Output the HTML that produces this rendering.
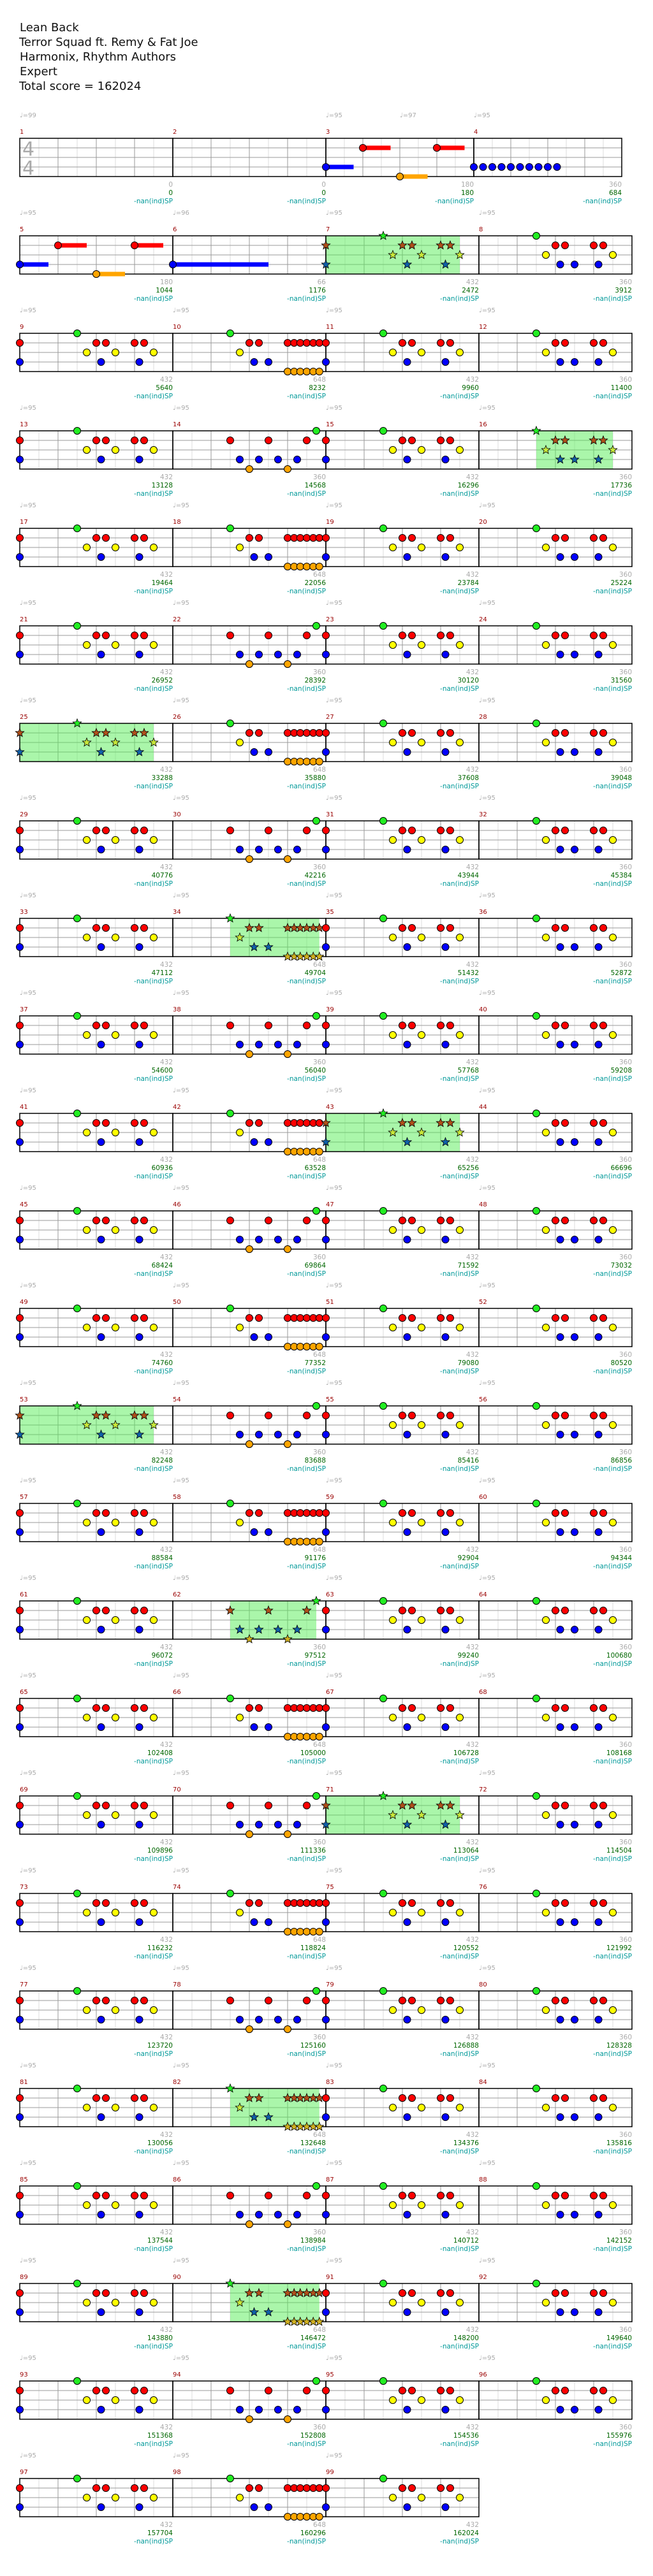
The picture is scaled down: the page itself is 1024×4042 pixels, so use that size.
<!DOCTYPE html>
<html><head><meta charset="utf-8">
<style>
html,body{margin:0;padding:0;background:#fff;}
svg{display:block;}
.t{font-family:"DejaVu Sans","Liberation Sans",sans-serif;}
</style></head>
<body>
<svg id="chart" width="1024" height="4042" viewBox="0 0 1024 4042" xmlns="http://www.w3.org/2000/svg">
<g class="t" font-size="18" fill="#111">
<text x="31" y="49">Lean Back</text>
<text x="30" y="72">Terror Squad ft. Remy &amp; Fat Joe</text>
<text x="31" y="95">Harmonix, Rhythm Authors</text>
<text x="31" y="118">Expert</text>
<text x="30" y="141">Total score = 162024</text>
</g>
<g font-family="DejaVu Sans, sans-serif" font-size="30" fill="#aaa">
<text x="35" y="244">4</text><text x="35" y="274">4</text>
</g>
<g id="rows"></g>
</svg>
<script>
// ---- data ----
const patA = [[0,1.5],[1,0],[1,2],[1,2.25],[1,3],[1,3.25],[2,1.75],[2,2.5],[2,3.5],[3,0],[3,2.125],[3,3.125]];
const patB = [[0,1.5],[1,2],[1,2.25],[1,3],[1,3.17],[1,3.33],[1,3.5],[1,3.67],[1,3.83],[2,1.75],[3,2.125],[3,2.5],[4,3],[4,3.17],[4,3.33],[4,3.5],[4,3.67],[4,3.83]];
const patC = [[0,1.5],[1,2],[1,2.25],[1,3],[1,3.25],[2,1.75],[2,3.5],[3,2.125],[3,2.5],[3,3.125]];
const patD = [[0,3.75],[1,1.5],[1,2.5],[1,3.5],[3,1.75],[3,2.25],[3,2.75],[3,3.25],[4,2],[4,3]];
const patIntro3 = [[3,0,0.75],[1,1,1.75],[4,2,2.75],[1,3,3.75]];
const patIntro4 = [[3,0],[3,0.25],[3,0.5],[3,0.75],[3,1],[3,1.25],[3,1.5],[3,1.75],[3,2],[3,2.25]];
const patIntro6 = [[3,0,2.5]];
const spMeasures = [7,16,25,34,43,53,62,71,82,90];
const measureNums = [];
for (let m=1;m<=99;m++) measureNums.push(m);
const measurePoints = [0,0,180,360,180,66,432,360];
const scores = [0,0,180,684,1044,1176,2472,3912,5640,8232,9960,11400,13128,14568,16296,17736,19464,22056,23784,25224,26952,28392,30120,31560,33288,35880,37608,39048,40776,42216,43944,45384,47112,49704,51432,52872,54600,56040,57768,59208,60936,63528,65256,66696,68424,69864,71592,73032,74760,77352,79080,80520,82248,83688,85416,86856,88584,91176,92904,94344,96072,97512,99240,100680,102408,105000,106728,108168,109896,111336,113064,114504,116232,118824,120552,121992,123720,125160,126888,128328,130056,132648,134376,135816,137544,138984,140712,142152,143880,146472,148200,149640,151368,152808,154536,155976,157704,160296,162024];
const tempos = {1:99,3:95,4:95,5:95,6:96,7:95,8:95};

const NS="http://www.w3.org/2000/svg";
const root=document.getElementById('rows');
const laneColors=['#22ee22','#ff0000','#ffff00','#0000ff','#ffa500'];
const starColors=['#22ee22','#b0501a','#c8e83a','#1060a8','#d0b020'];
const laneNames=['green','red','yellow','blue','orange'];
function mk(tag,attrs,parent){const e=document.createElementNS(NS,tag);for(const k in attrs)e.setAttribute(k,attrs[k]);(parent||root).appendChild(e);return e;}
function patternFor(m){
  if(m===3) return {notes:patIntro3,sus:true};
  if(m===4) return {notes:patIntro4};
  if(m===5) return {notes:patIntro3,sus:true};
  if(m===6) return {notes:patIntro6,sus:true};
  if(m<7) return {notes:[]};
  if(m%2===1) return {notes:patA,pts:432};
  if(m%4===0) return {notes:patC,pts:360};
  if(m%8===2) return {notes:patB,pts:648};
  return {notes:patD,pts:360};
}
function starPts(cx,cy,R,r){let p=[];for(let i=0;i<10;i++){const a=-Math.PI/2+i*Math.PI/5;const rr=i%2?r:R;p.push((cx+rr*Math.cos(a)).toFixed(1)+','+(cy+rr*Math.sin(a)).toFixed(1));}return p.join(' ');}

measureNums.forEach((m,i)=>{
  const row=Math.floor(i/4), col=i%4;
  const top=217+153*row, bot=top+60;
  let x, w;
  if(row===0){const xs=[31,271,511,743];const ws=[240,240,232,232];x=xs[col];w=ws[col];}
  else {x=31+240*col;w=240;}
  const bw=w/4;
  const g=mk('g',{});
  
  
  for(let k=1;k<8;k++){const lx=x+k*bw/2;mk('line',{x1:lx,y1:top,x2:lx,y2:bot,stroke:k%2?'#dddddd':'#999999','stroke-width':1},g);}
  for(let k=1;k<4;k++){mk('line',{x1:x,y1:top+15*k,x2:x+w,y2:top+15*k,stroke:'#999999','stroke-width':1},g);}
  const p=patternFor(m);
  const sp=spMeasures.includes(m);
  if(sp&&p.notes.length){
    let b0=Math.min(...p.notes.map(n=>n[1])), b1=Math.max(...p.notes.map(n=>n[1]));
    const r=mk('rect',{x:x+b0*bw,y:top,width:(b1-b0)*bw,height:60,fill:'#55ee55','fill-opacity':0.5},g);
    
    
  }
  mk('rect',{x:x,y:top,width:w,height:60,fill:'none',stroke:'#000','stroke-width':1.5},g);
  const mn=mk('text',{x:x,y:top-7,'font-size':10,fill:'#990000','font-family':'DejaVu Sans, sans-serif'},g);mn.textContent=m;
  
  
  const tp = row===0 ? tempos[m] : (tempos[m]||95);
  if(tp){const tt=mk('text',{x:x,y:top-33,'font-size':10,fill:'#aaaaaa','font-family':'DejaVu Sans, sans-serif'},g);tt.textContent='\u2669='+tp;
    
    }
  if(m===3){const tt=mk('text',{x:x+116,y:top-33,'font-size':10,fill:'#aaaaaa','font-family':'DejaVu Sans, sans-serif'},g);tt.textContent='\u2669=97';
    
    }
  const pts = m<=8 ? measurePoints[m-1] : p.pts;
  const t1=mk('text',{x:x+w,y:bot+16,'font-size':10.5,fill:'#aaaaaa','text-anchor':'end','font-family':'DejaVu Sans, sans-serif'},g);t1.textContent=pts;
  
  
  const t2=mk('text',{x:x+w,y:bot+29,'font-size':10.5,fill:'#006600','text-anchor':'end','font-family':'DejaVu Sans, sans-serif'},g);t2.textContent=scores[i];
  
  
  const t3=mk('text',{x:x+w,y:bot+42,'font-size':10.5,fill:'#009999','text-anchor':'end','font-family':'DejaVu Sans, sans-serif'},g);t3.textContent='-nan(ind)SP';
  
  
  p.notes.forEach(n=>{ if(n.length>2){const y=top+15*n[0];mk('rect',{x:x+n[1]*bw,y:y-3.5,width:(n[2]-n[1])*bw,height:7,fill:laneColors[n[0]]},g);} });
  p.notes.forEach(n=>{
    const cx=x+n[1]*bw, cy=top+15*n[0];
    let e;
    if(sp){e=mk('polygon',{points:starPts(cx,cy,7,3),fill:starColors[n[0]],stroke:'#000','stroke-width':0.8},g);}
    else {e=mk('circle',{cx:cx,cy:cy,r:5.5,fill:laneColors[n[0]],stroke:'#000','stroke-width':1},g);}
    
    
  });
});
</script>
</body></html>
